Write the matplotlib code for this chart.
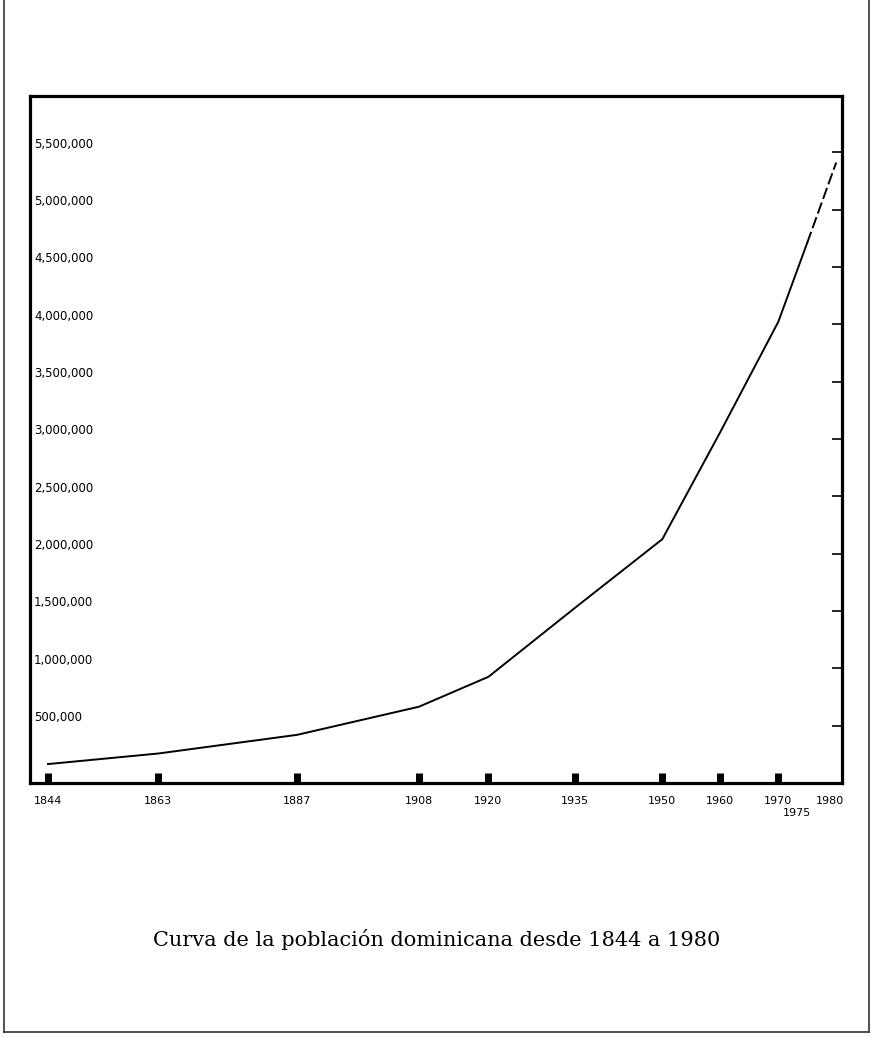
import matplotlib.pyplot as plt
from matplotlib.lines import Line2D
from matplotlib.transforms import ScaledTranslation

# censos / estimaciones
years = [1844, 1863, 1887, 1908, 1920, 1935, 1950, 1960, 1970, 1975]
population = [165000, 257000, 420000, 665000, 926000, 1530000, 2126000, 3060000, 4020000, 4710000]

# proyeccion (trazo discontinuo)
proj_years = [1975, 1980]
proj_population = [4710000, 5410000]

x_ticks = [1844, 1863, 1887, 1908, 1920, 1935, 1950, 1960, 1970, 1975, 1980]
y_ticks = [500000, 1000000, 1500000, 2000000, 2500000, 3000000,
           3500000, 4000000, 4500000, 5000000, 5500000]
y_labels = ['500,000', '1,000,000', '1,500,000', '2,000,000', '2,500,000', '3,000,000',
            '3,500,000', '4,000,000', '4,500,000', '5,000,000', '5,500,000']

title = 'Curva de la población dominicana desde 1844 a 1980'

fig = plt.figure(figsize=(8.73, 10.38), dpi=100)
ax = fig.add_axes([30 / 873, 1 - 783 / 1038, 812 / 873, 687 / 1038])

ax.plot(years, population, color='black', lw=1.4)
ax.plot(proj_years, proj_population, color='black', lw=1.4, dashes=(6, 2))

ax.set_xlim(1840.9, 1981.0)
ax.set_ylim(0, 5990000)

for s in ax.spines.values():
    s.set_linewidth(2.3)

# eje x: marcas gruesas hacia dentro
ax.set_xticks(x_ticks)
ax.set_xticklabels([str(y) for y in x_ticks])
ax.tick_params(axis='x', direction='in', length=7.5, width=5, pad=9, labelsize=8)
xt = ax.xaxis.get_major_ticks()
for t in xt[-2:]:
    t.tick1line.set_visible(False)
lbls = ax.get_xticklabels()
lbls[-2].set_transform(lbls[-2].get_transform() + ScaledTranslation(-0.10, -0.12, fig.dpi_scale_trans))
lbls[-1].set_transform(lbls[-1].get_transform() + ScaledTranslation(-0.06, 0, fig.dpi_scale_trans))

# eje y: marcas en el lado derecho, etiquetas dentro a la izquierda
ax.set_yticks(y_ticks)
ax.set_yticklabels(y_labels)
ax.tick_params(axis='y', left=False, right=True, labelleft=True, direction='in',
               length=7, width=1.2, pad=-3, labelsize=8.5)
for lab in ax.get_yticklabels():
    lab.set_horizontalalignment('left')
    lab.set_transform(lab.get_transform() + ScaledTranslation(0, 0.095, fig.dpi_scale_trans))

# marco exterior de la pagina
fx0, fx1, fy0 = 4 / 873, 869 / 873, 1 - 1032 / 1038
for xs, ys in [([fx0, fx0], [fy0, 1]), ([fx1, fx1], [fy0, 1]), ([fx0, fx1], [fy0, fy0])]:
    fig.add_artist(Line2D(xs, ys, transform=fig.transFigure, color='#333333', lw=1.2))

fig.text(0.5, 1 - 940 / 1038, title, ha='center', va='center',
         family='DejaVu Serif', fontsize=15)

fig.savefig('out.png', dpi=100)
